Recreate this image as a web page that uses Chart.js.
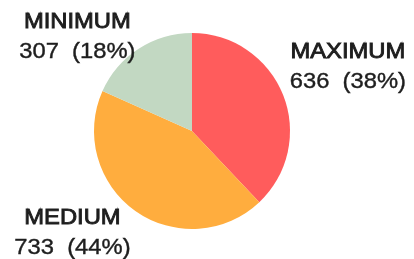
<!DOCTYPE html>
<html>
<head>
<meta charset="utf-8">
<script src="https://cdn.jsdelivr.net/npm/chart.js@4"></script>
<style>
  html, body { margin: 0; padding: 0; background: #fff; }
  #wrap { width: 414px; height: 259px; }
</style>
</head>
<body>
<div id="wrap"><canvas id="graficoPizza" width="414" height="259"></canvas></div>
<script>
// dados
const categorias = ['MAXIMUM', 'MEDIUM', 'MINIMUM'];
const valores = [636, 733, 307];
const cores = ['#ff5c5c', '#ffad3e', '#c2d8c2'];

// posicao dos rotulos em relacao ao centro (unidades de raio)
const posRotulos = [
  { dx: 1.59, dy: -0.745 },
  { dx: -1.22, dy: 0.95 },
  { dx: -1.17, dy: -1.05 }
];

const total = valores.reduce((a, b) => a + b, 0);

const rotulosPlugin = {
  id: 'rotulos',
  afterDatasetsDraw(chart) {
    const ctx = chart.ctx;
    const meta = chart.getDatasetMeta(0);
    ctx.save();
    ctx.fillStyle = '#1e1e1e';
    ctx.strokeStyle = '#1e1e1e';
    ctx.textAlign = 'center';
    ctx.textBaseline = 'alphabetic';
    ctx.font = '22px "Liberation Sans", Arial, sans-serif';
    meta.data.forEach((arc, i) => {
      const r = arc.outerRadius;
      const x = arc.x + posRotulos[i].dx * r;
      const y = arc.y + posRotulos[i].dy * r;
      const pct = Math.round(valores[i] / total * 100);
      const texto = valores[i] + '  (' + pct + '%)';
      ctx.save();
      ctx.translate(x, y);
      ctx.scale(1.08, 1);
      // nome um pouco mais grosso
      ctx.lineWidth = 0.9;
      ctx.fillText(categorias[i], 0, 0);
      ctx.strokeText(categorias[i], 0, 0);
      ctx.lineWidth = 0.4;
      ctx.fillText(texto, 0, 30);
      ctx.strokeText(texto, 0, 30);
      ctx.restore();
    });
    ctx.restore();
  }
};

new Chart(document.getElementById('graficoPizza').getContext('2d'), {
  type: 'pie',
  data: {
    labels: categorias,
    datasets: [{
      data: valores,
      backgroundColor: cores,
      borderWidth: 0
    }]
  },
  options: {
    responsive: false,
    animation: false,
    layout: { padding: { left: 94, right: 124, top: 33, bottom: 30 } },
    plugins: {
      legend: { display: false },
      tooltip: { enabled: false }
    }
  },
  plugins: [rotulosPlugin]
});
</script>
</body>
</html>
